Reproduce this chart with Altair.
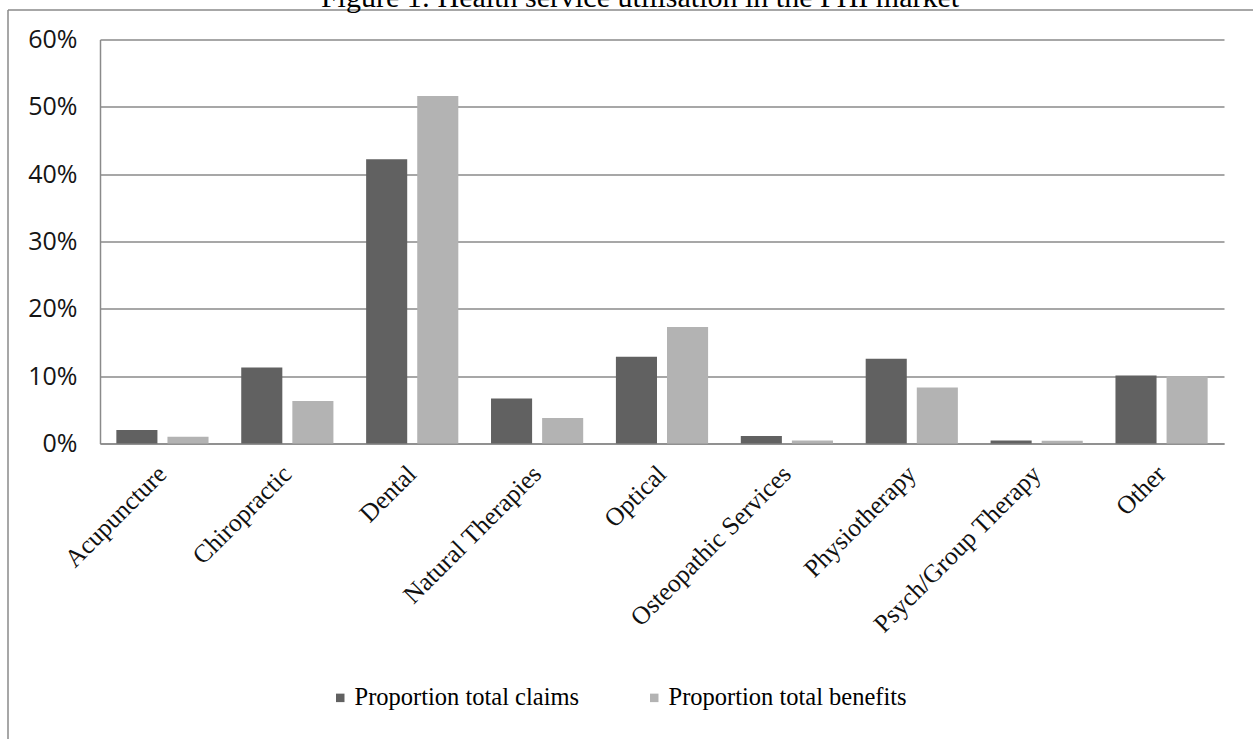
import altair as alt
import pandas as pd

title_text = "Figure 1: Health service utilisation in the PHI market"
categories = ["Acupuncture", "Chiropractic", "Dental", "Natural Therapies", "Optical",
              "Osteopathic Services", "Physiotherapy", "Psych/Group Therapy", "Other"]
claims = [2.0, 11.3, 42.2, 6.7, 12.9, 1.1, 12.6, 0.45, 10.1]
benefits = [1.0, 6.3, 51.6, 3.8, 17.3, 0.45, 8.3, 0.4, 10.0]
series = ["Proportion total claims", "Proportion total benefits"]
colors = ["#616161", "#b3b3b3"]
y_ticks = [0, 0.1, 0.2, 0.3, 0.4, 0.5, 0.6]

rows = []
for c, a, b in zip(categories, claims, benefits):
    rows.append({"category": c, "series": series[0], "value": a / 100})
    rows.append({"category": c, "series": series[1], "value": b / 100})
df = pd.DataFrame(rows)

grid_col = "#8a8a8a"

bars = alt.Chart(df).mark_bar().encode(
    x=alt.X("category:N", sort=categories,
            scale=alt.Scale(paddingInner=0, paddingOuter=0),
            axis=alt.Axis(title=None, labelAngle=-45, labelAlign="right", labelBaseline="middle",
                          labelFont="Liberation Serif", labelFontSize=25.5, labelColor="#111111",
                          labelPadding=26, ticks=False, domain=True, domainColor=grid_col,
                          domainWidth=1.5, labelOverlap=False, labelLimit=400)),
    xOffset=alt.XOffset("series:N", sort=series,
                        scale=alt.Scale(paddingInner=0.196, paddingOuter=0.32)),
    y=alt.Y("value:Q", scale=alt.Scale(domain=[0, 0.6], nice=False),
            axis=alt.Axis(title=None, format=".0%", values=y_ticks, grid=True,
                          gridColor=grid_col, gridWidth=1.5, ticks=False,
                          domain=True, domainColor=grid_col, domainWidth=1.5,
                          labelFont="Open Sans", labelFontSize=25, labelColor="#151515",
                          labelPadding=23)),
    color=alt.Color("series:N", sort=series,
                    scale=alt.Scale(domain=series, range=colors),
                    legend=alt.Legend(title=None, orient="none", legendX=228, legendY=646,
                                      direction="horizontal", symbolType="square",
                                      symbolSize=72, symbolStrokeWidth=0,
                                      labelFont="Liberation Serif", labelFontSize=24.5,
                                      labelColor="#000000", labelOffset=2,
                                      columnPadding=62, labelLimit=400)),
)

dummy = pd.DataFrame({"t": [title_text]})

title = alt.Chart(dummy).mark_text(
    font="Liberation Serif", fontSize=30, color="#000000", align="center", baseline="alphabetic"
).encode(text="t:N", x=alt.value(540), y=alt.value(-33))

frame_left = alt.Chart(dummy).mark_rule(color="#8a8a8a", strokeWidth=1.5).encode(
    x=alt.value(-92), y=alt.value(-29.5), y2=alt.value(720))
frame_top = alt.Chart(dummy).mark_rule(color="#8a8a8a", strokeWidth=1.5).encode(
    x=alt.value(-92), x2=alt.value(1170), y=alt.value(-29.5))

chart = alt.layer(bars, frame_left, frame_top, title).properties(
    width=1124, height=404,
    autosize=alt.AutoSizeParams(type="none"),
    padding={"left": 100, "top": 39.5, "right": 29, "bottom": 295.5},
    background="#ffffff",
).configure_view(stroke=None)

chart.save("out.html", embed_options={"renderer": "svg", "actions": False})
